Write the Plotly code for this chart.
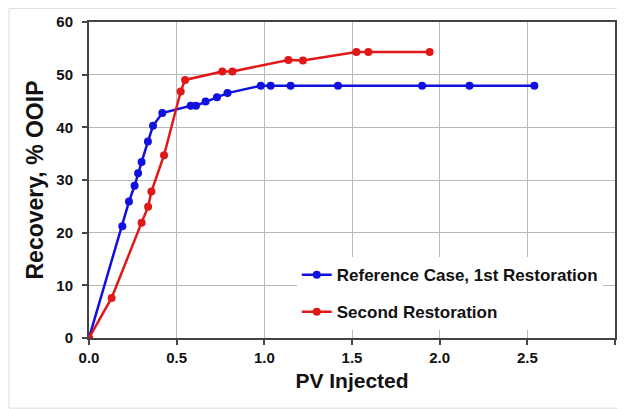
import plotly.graph_objects as go

ref_x = [0.0, 0.19, 0.228, 0.26, 0.28, 0.30, 0.336, 0.365, 0.418, 0.58, 0.61, 0.665, 0.73, 0.79, 0.98, 1.036, 1.15, 1.42, 1.90, 2.17, 2.54]
ref_y = [0.0, 21.2, 25.9, 28.9, 31.3, 33.4, 37.3, 40.3, 42.7, 44.1, 44.1, 44.9, 45.7, 46.5, 47.9, 47.9, 47.9, 47.9, 47.9, 47.9, 47.9]

sec_x = [0.0, 0.129, 0.30, 0.337, 0.356, 0.428, 0.523, 0.548, 0.76, 0.818, 1.137, 1.22, 1.525, 1.593, 1.943]
sec_y = [0.0, 7.6, 21.9, 24.9, 27.8, 34.7, 46.8, 49.0, 50.6, 50.6, 52.8, 52.7, 54.3, 54.3, 54.3]

x_ticks = [0.0, 0.5, 1.0, 1.5, 2.0, 2.5, 3.0]
x_tick_text = ["0.0", "0.5", "1.0", "1.5", "2.0", "2.5", "3.0"]
y_ticks = [0, 10, 20, 30, 40, 50, 60]
y_tick_text = ["0", "10", "20", "30", "40", "50", "60"]

FONT = "Arial, Liberation Sans, sans-serif"

fig = go.Figure()
fig.add_trace(go.Scatter(x=ref_x, y=ref_y, mode="lines+markers",
                         name="Reference Case, 1st Restoration",
                         legendgroup="a",
                         line=dict(color="#1010e0", width=2.5),
                         marker=dict(color="#1010e0", size=8, symbol="circle")))
fig.add_trace(go.Scatter(x=sec_x, y=sec_y, mode="lines+markers",
                         name="Second Restoration",
                         legendgroup="b",
                         line=dict(color="#e01818", width=2.5),
                         marker=dict(color="#e01818", size=8, symbol="circle")))

fig.update_layout(
    width=617, height=401,
    margin=dict(l=81, r=10, t=14, b=71, autoexpand=False),
    paper_bgcolor="white", plot_bgcolor="white",
    font=dict(family=FONT, color="#111"),
    showlegend=True,
    legend=dict(x=0.395, y=0.256, xanchor="left", yanchor="top",
                bgcolor="white", borderwidth=0,
                font=dict(size=17, family=FONT, color="#111", weight="bold"),
                tracegroupgap=12, itemwidth=30),
    xaxis=dict(range=[0, 3.0], tickvals=x_ticks, ticktext=x_tick_text,
               showgrid=True, gridcolor="#b8b8b8", gridwidth=1.2,
               showline=True, linecolor="#444", linewidth=2, mirror=True,
               ticks="outside", ticklen=5, tickcolor="#444", tickwidth=1.5,
               tickfont=dict(size=15, family=FONT, color="#111", weight="bold"),
               title=dict(text="PV Injected", font=dict(size=21, family=FONT, color="#111", weight="bold"), standoff=8),
               zeroline=False, automargin=False),
    yaxis=dict(range=[0, 60], tickvals=y_ticks, ticktext=y_tick_text,
               showgrid=True, gridcolor="#b8b8b8", gridwidth=1.2,
               showline=True, linecolor="#444", linewidth=2, mirror=True,
               ticks="outside", ticklen=5, tickcolor="#444", tickwidth=1.5,
               ticklabelstandoff=6,
               tickfont=dict(size=15, family=FONT, color="#111", weight="bold"),
               title=dict(text="Recovery, % OOIP", font=dict(size=23, family=FONT, color="#111", weight="bold"), standoff=6),
               zeroline=False, automargin=False),
)
fig.add_shape(type="rect", xref="paper", yref="paper",
              x0=-0.152, x1=1.017, y0=-0.222, y1=1.043,
              line=dict(color="#dddddd", width=1), layer="below")

fig.write_html("out.html")
